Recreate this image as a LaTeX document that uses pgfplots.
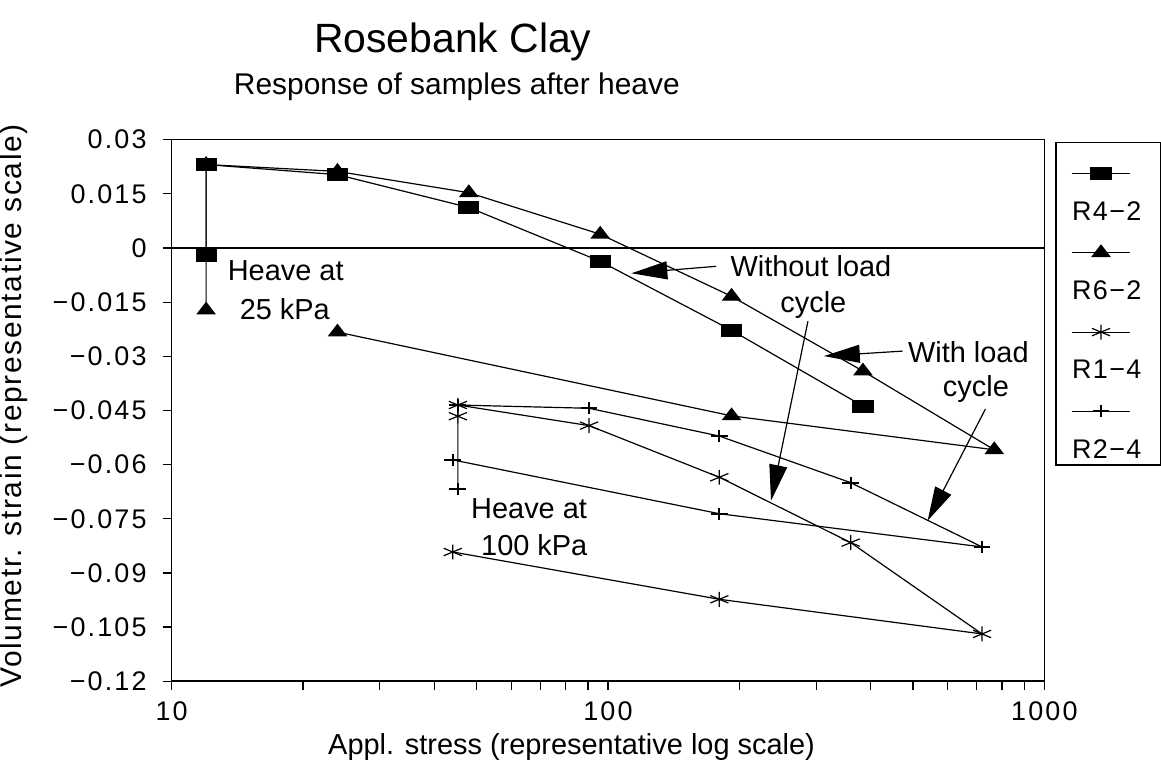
\documentclass[border=0pt]{standalone}
\usepackage{fontspec}
\setmainfont{Liberation Sans}
\usepackage{pgfplots}
\pgfplotsset{compat=1.18}
\usetikzlibrary{arrows.meta}
\begin{document}
\begin{tikzpicture}
\begin{scope}[x=0.5pt,y=-0.5pt,shift={(-86pt,341.5pt)}]
\path[use as bounding box] (0,0) rectangle (1161,770);
\end{scope}
\begin{axis}[
  scale only axis, width=437.5pt, height=271.5pt,
  xmode=log, log basis x=10, xmin=10, xmax=1000,
  ymin=-0.12, ymax=0.03,
  xtick={10,100,1000}, xticklabels={10,100,1000},
  minor xtick={20,30,40,50,60,70,80,90,200,300,400,500,600,700,800,900},
  ytick={-0.12,-0.105,-0.09,-0.075,-0.06,-0.045,-0.03,-0.015,0,0.015,0.03},
  yticklabels={−0.12,−0.105,−0.09,−0.075,−0.06,−0.045,−0.03,−0.015,0,0.015,0.03},
  tick align=outside, tick pos=left,
  major tick length=4.5pt, minor tick length=4.5pt,
  every tick/.style={black, line width=0.6pt},
  axis line style={line width=0.8pt},
  ticklabel style={font=\fontsize{13.5}{15}\selectfont\addfontfeature{LetterSpace=8}},
  yticklabel style={xshift=-4.5pt},
  xticklabel style={yshift=-2pt},
  clip=false,
  legend cell align=left,
  legend style={at={(1.0126,0.9963)}, anchor=north west, draw=black, line width=0.7pt,
    inner xsep=7.5pt, inner ysep=0pt, row sep=-2.65pt, column sep=-31.5pt,
    font=\fontsize{13.5}{16}\selectfont\addfontfeature{LetterSpace=5}},
  legend image code/.code={
    \path[draw=none, fill=none] (0pt,-2pt) rectangle (29.5pt,35pt);
    \draw[mark repeat=2,mark phase=2,#1] plot coordinates {(0pt,19.5pt) (14.75pt,19.5pt) (29.5pt,19.5pt)};
  },
]
\draw[line width=0.6pt] (axis cs:10,0) -- (axis cs:1000,0);
\addplot[black, line width=0.6pt, mark=square*, mark size=3pt, mark options={xscale=1.67, solid, fill=black}]
 coordinates {(12,-0.002) (12,0.0231) (24,0.0203) (48,0.0112) (96,-0.0037) (192,-0.0228) (384,-0.0438)};
\addlegendentry{R4−2}
\addplot[black, line width=0.6pt, mark=triangle*, mark size=5pt, mark options={yscale=0.75, solid, fill=black}]
 coordinates {(12,-0.0172) (12,0.0231) (24,0.0212) (48,0.0153) (96,0.0038) (192,-0.0134) (384,-0.0341) (768,-0.0559) (192,-0.0465) (24,-0.0233)};
\addlegendentry{R6−2}
\addplot[black, line width=0.6pt, mark=asterisk, mark size=3.75pt, mark options={xscale=1.4, solid, line width=0.6pt}]
 coordinates {(45.3,-0.0466) (45.3,-0.0435) (90.5,-0.0492) (180,-0.0635) (360,-0.0816) (720,-0.1069) (180,-0.0973) (44.1,-0.0842)};
\addlegendentry{R1−4}
\addplot[black, line width=0.6pt, mark=+, mark size=3pt, mark options={xscale=1.4, solid, line width=1.1pt}]
 coordinates {(45.3,-0.0667) (45.3,-0.0435) (90.5,-0.0444) (180,-0.0521) (360,-0.0650) (720,-0.0828) (180,-0.0736) (44.1,-0.0587)};
\addlegendentry{R2−4}
\end{axis}
\begin{scope}[x=0.5pt,y=-0.5pt,shift={(-86pt,341.5pt)}, every node/.style={inner sep=0pt}, font=\fontsize{14.5}{17}\selectfont]
\node[anchor=base] at (454,53) {\fontsize{20.5}{24}\selectfont Rosebank Clay};
\node[anchor=base] at (458,95) {\fontsize{15}{18}\selectfont Response of samples after heave};
\node[anchor=base] at (573,756) {Appl. stress (representative log scale)};
\node[anchor=base, rotate=90] at (22,407) {\fontsize{15}{18}\selectfont\addfontfeature{LetterSpace=5.5}Volumetr. strain (representative scale)};
\node[anchor=base west] at (228,281) {Heave at};
\node[anchor=base west] at (240,320) {25 kPa};
\node[anchor=base west] at (472,520) {Heave at};
\node[anchor=base west] at (482,557) {100 kPa};
\node[anchor=base west] at (732,277) {Without load};
\node[anchor=base west] at (782,313) {cycle};
\node[anchor=base west] at (910,363) {With load};
\node[anchor=base west] at (945,398) {cycle};
\draw[line width=0.6pt, -{Triangle[length=18pt,width=9pt]}] (718,267) -- (633,274);
\draw[line width=0.6pt, -{Triangle[length=18pt,width=9pt]}] (905,352) -- (826,357);
\draw[line width=0.6pt, -{Triangle[length=18pt,width=9pt]}] (810,322) -- (773,502);
\draw[line width=0.6pt, -{Triangle[length=17pt,width=9pt]}] (988,410) -- (930,522);
\end{scope}
\end{tikzpicture}
\end{document}
